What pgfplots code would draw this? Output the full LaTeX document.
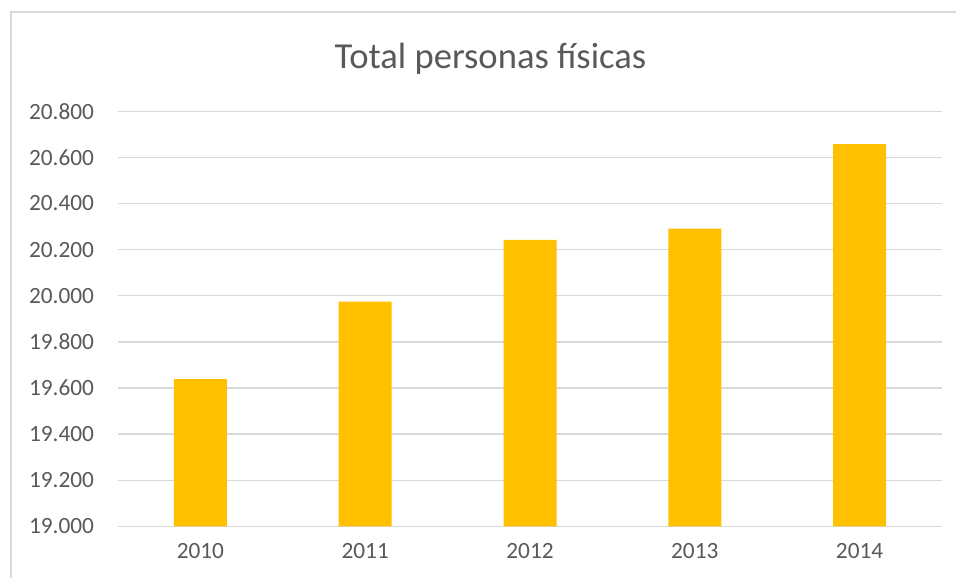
\documentclass[border=0pt]{standalone}
\usepackage{pgfplots}
\pgfplotsset{compat=1.18}
\usepackage{fontspec}
\setmainfont{Carlito}
\definecolor{txt}{HTML}{595959}
\definecolor{gridc}{HTML}{D9D9D9}
\definecolor{barc}{HTML}{FFC000}
\begin{document}
\begin{tikzpicture}[x=0.5pt,y=0.5pt]
\useasboundingbox (0,0) rectangle (956,578);
\draw[gridc, line width=0.6pt] (11,0) -- (11,566) -- (956,566);
\node[anchor=base, text=txt, font=\fontsize{18.3pt}{20pt}\selectfont] at (490.5,509) {Total personas físicas};
\begin{axis}[
  at={(118*0.5pt,51.7*0.5pt)}, anchor=south west,
  scale only axis, width=412pt, height=207.5pt,
  xmin=-0.5, xmax=4.5, ymin=19000, ymax=20800,
  ytick={19000,19200,...,20800},
  scaled y ticks=false,
  xtick=data, xticklabels={2010,2011,2012,2013,2014},
  axis line style={draw=none},
  major tick length=0pt,
  xmajorgrids=false, ymajorgrids=true, grid style={draw=gridc, line width=0.65pt},
  tick label style={text=txt, font=\fontsize{11.65pt}{13pt}\selectfont},
  yticklabel style={xshift=-8.5pt},
  xticklabel style={yshift=-5pt},
  /pgf/number format/assume math mode=true,
  yticklabel={\pgfmathprintnumber[fixed,precision=0,1000 sep={.},assume math mode=true]{\tick}},
]
\addplot[ybar, bar width=26.5pt, fill=barc, draw=none] coordinates {
 (0,19638) (1,19974) (2,20242) (3,20291) (4,20658)};
\end{axis}
\end{tikzpicture}
\end{document}
